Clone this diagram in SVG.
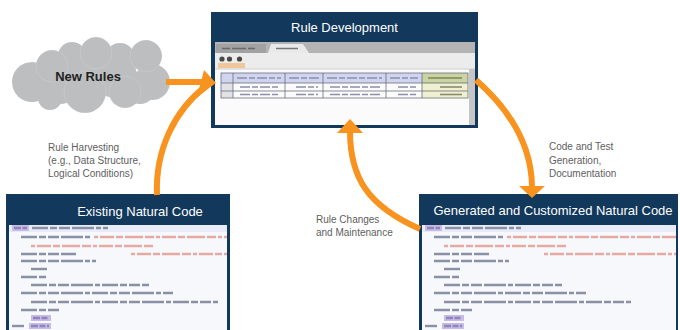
<svg xmlns="http://www.w3.org/2000/svg" xmlns:xlink="http://www.w3.org/1999/xlink" width="680" height="330" viewBox="0 0 680 330">
<style>
  .navy{fill:#12385c}
  .title{font-family:"Liberation Sans",Arial,sans-serif;font-size:13px;fill:#ffffff;text-anchor:middle}
  .lbl{font-family:"Liberation Sans",Arial,sans-serif;font-size:10px;fill:#5e5e5e}
  .arrow{fill:none;stroke:#f7931e;stroke-width:6}
  .head{fill:#f7931e}
  .cg{stroke:#8a90a6;stroke-width:2.4;stroke-dasharray:16 2 7 2 11 2 22 2 5 2}
  .cr{stroke:#e6aaa2;stroke-width:2.4;stroke-dasharray:4 2 14 2 7 2 18 2 9 2}
  .cp{stroke:#8f84bd;stroke-width:2.4;stroke-dasharray:7 1.5 6 1.5}
  .hl{fill:#c6bce4}
  .cloud circle{fill:#bdbec0}
  .seam circle{fill:none;stroke:#ffffff;stroke-opacity:.18;stroke-width:.7}
  .grid{fill:none;stroke:#5a5f70;stroke-width:.7}
  .cell{stroke:#8a90aa;stroke-width:1.6;stroke-dasharray:10 2 6 2}
</style>
<defs>
  <filter id="soft" x="-5%" y="-5%" width="110%" height="110%"><feGaussianBlur stdDeviation="0.6"/></filter>
  <clipPath id="clipL"><rect x="9" y="225" width="218" height="105"/></clipPath>
  <clipPath id="clipR"><rect x="422" y="225" width="254" height="105"/></clipPath>
  <g id="code">
    <rect x="0" y="0" width="300" height="7" fill="#e8ecf8"/>
    <rect class="hl" x="3" y="0" width="17" height="6"/>
    <line class="cp" x1="5" y1="3" x2="18" y2="3"/>
    <line class="cg" x1="23" y1="3" x2="99" y2="3"/>
    <line class="cg" x1="12" y1="12" x2="82" y2="12"/>
    <line class="cr" x1="85" y1="12" x2="300" y2="12"/>
    <line class="cr" x1="22" y1="21" x2="144" y2="21"/>
    <line class="cg" x1="12" y1="29" x2="67" y2="29"/>
    <line class="cr" x1="122" y1="29" x2="300" y2="29"/>
    <line class="cg" x1="12" y1="36" x2="87" y2="36"/>
    <line class="cg" x1="22" y1="44" x2="40" y2="44"/>
    <line class="cg" x1="12" y1="52" x2="37" y2="52"/>
    <line class="cg" x1="22" y1="60" x2="140" y2="60"/>
    <line class="cg" x1="12" y1="68" x2="164" y2="68"/>
    <line class="cg" x1="22" y1="77" x2="209" y2="77"/>
    <line class="cg" x1="12" y1="85" x2="50" y2="85"/>
    <rect class="hl" x="22" y="90" width="20" height="6"/>
    <line class="cp" x1="24" y1="93" x2="40" y2="93"/>
    <line class="cg" x1="3" y1="101" x2="15" y2="101"/>
    <rect class="hl" x="20" y="98" width="22" height="6"/>
    <line class="cp" x1="22" y1="101" x2="40" y2="101"/>
  </g>
</defs>
<rect width="680" height="330" fill="#ffffff"/>

<g id="new-rules">
  <g class="cloud">
    <circle cx="32" cy="82" r="20"/><circle cx="52" cy="66" r="16"/><circle cx="72" cy="56" r="14"/>
    <circle cx="96" cy="53" r="16"/><circle cx="120" cy="58" r="15"/><circle cx="146" cy="56" r="16"/>
    <circle cx="152" cy="82" r="18"/><circle cx="50" cy="98" r="12"/><circle cx="85" cy="92" r="21"/>
    <circle cx="125" cy="92" r="16"/><circle cx="90" cy="75" r="25"/><circle cx="140" cy="88" r="16"/>
    <circle cx="115" cy="76" r="22"/><circle cx="60" cy="84" r="20"/>
  </g>
  <g class="seam">
    <circle cx="52" cy="66" r="16"/><circle cx="96" cy="53" r="16"/><circle cx="146" cy="56" r="16"/>
    <circle cx="85" cy="92" r="21"/><circle cx="125" cy="92" r="16"/>
  </g>
  <text x="88" y="81" text-anchor="middle" font-family="'Liberation Sans',Arial,sans-serif" font-size="13" font-weight="bold" fill="#222222">New Rules</text>
</g>

<g id="rule-development">
  <rect class="navy" x="211" y="12" width="267" height="116"/>
  <text class="title" x="344.5" y="32">Rule Development</text>
  <g filter="url(#soft)">
    <rect x="215" y="42" width="260" height="83" fill="#fbfbfb"/>
    <rect x="215" y="42" width="260" height="11" fill="#b4b4b4"/>
    <rect x="216" y="44" width="50" height="9" fill="#a2a2a2"/>
    <line x1="222" y1="48.5" x2="255" y2="48.5" stroke="#6a6a6a" stroke-width="1.5" stroke-dasharray="8 2 14 2"/>
    <polygon points="268,53 271,44 303,44 309,53" fill="#e9e9e9"/>
    <line x1="276" y1="48.5" x2="298" y2="48.5" stroke="#777" stroke-width="1.5"/>
    <rect x="215" y="53" width="260" height="16" fill="#ececec"/>
    <circle cx="222" cy="59" r="2.6" fill="#4a4a4a"/>
    <circle cx="229.5" cy="59" r="2.6" fill="#4a4a4a"/>
    <circle cx="239.5" cy="59" r="2.6" fill="#4a4a4a"/>
    <rect x="218" y="63" width="27" height="5" fill="#f0c79a"/>
    <line x1="215" y1="69" x2="475" y2="69" stroke="#cfcfcf"/>
    <rect x="469" y="69" width="6" height="56" fill="#c6c6c6"/>
    <rect x="221" y="73" width="247" height="10" fill="#d0d4ee"/>
    <rect x="422" y="73" width="46" height="10" fill="#c9d3a3"/>
    <rect x="221" y="83" width="12" height="15" fill="#e2e2e6"/>
    <rect x="422" y="83" width="46" height="15" fill="#eef0d0"/>
    <line class="cell" x1="237" y1="78" x2="281" y2="78"/>
    <line class="cell" x1="289" y1="78" x2="319" y2="78"/>
    <line class="cell" x1="327" y1="78" x2="382" y2="78"/>
    <line class="cell" x1="390" y1="78" x2="418" y2="78"/>
    <line x1="428" y1="78" x2="462" y2="78" stroke="#7d8a55" stroke-width="1.6"/>
    <line class="cell" x1="240" y1="87" x2="280" y2="87"/>
    <line class="cell" x1="296" y1="87" x2="318" y2="87"/>
    <line class="cell" x1="330" y1="87" x2="380" y2="87"/>
    <line class="cell" x1="398" y1="87" x2="418" y2="87"/>
    <line x1="440" y1="87" x2="462" y2="87" stroke="#8a8a70" stroke-width="1.6"/>
    <line class="cell" x1="240" y1="94.5" x2="278" y2="94.5"/>
    <line class="cell" x1="296" y1="94.5" x2="318" y2="94.5"/>
    <line class="cell" x1="330" y1="94.5" x2="380" y2="94.5"/>
    <line class="cell" x1="398" y1="94.5" x2="418" y2="94.5"/>
    <line x1="440" y1="94.5" x2="462" y2="94.5" stroke="#8a8a70" stroke-width="1.6"/>
    <rect class="grid" x="221" y="73" width="247" height="25"/>
    <path class="grid" d="M221,83H468M221,91H468M233,73V98M285,73V98M323,73V98M386,73V98M422,73V98"/>
  </g>
</g>

<g id="existing-code">
  <rect class="navy" x="6" y="194" width="224" height="140"/>
  <text class="title" x="140" y="216">Existing Natural Code</text>
  <rect x="9" y="225" width="218" height="105" fill="#f7f8fb"/>
  <g clip-path="url(#clipL)" filter="url(#soft)"><use xlink:href="#code" href="#code" transform="translate(9,225)"/></g>
</g>

<g id="generated-code">
  <rect class="navy" x="419" y="194" width="259" height="140"/>
  <text class="title" x="553" y="215">Generated and Customized Natural Code</text>
  <rect x="422" y="225" width="254" height="105" fill="#f7f8fb"/>
  <g clip-path="url(#clipR)" filter="url(#soft)"><use xlink:href="#code" href="#code" transform="translate(422,225)"/></g>
</g>

<g id="connectors">
  <path class="arrow" d="M166,82 L203,82"/>
  <path class="arrow" d="M157,195 C155,150 175,110 205,87"/>
  <polygon class="head" points="197,97 204,70 216,83"/>
  <path class="arrow" d="M476,80 C510,110 532,145 532,188"/>
  <polygon class="head" points="519,186 545,186 532,198"/>
  <path class="arrow" d="M420,229 C368,206 350,178 350,131"/>
  <polygon class="head" points="337,133 363,133 350,119"/>
</g>

<g id="labels">
  <text class="lbl" x="48" y="151">Rule Harvesting</text>
  <text class="lbl" x="48" y="164">(e.g., Data Structure,</text>
  <text class="lbl" x="48" y="177">Logical Conditions)</text>
  <text class="lbl" x="549" y="150">Code and Test</text>
  <text class="lbl" x="549" y="163.5">Generation,</text>
  <text class="lbl" x="549" y="177">Documentation</text>
  <text class="lbl" x="316" y="223">Rule Changes</text>
  <text class="lbl" x="316" y="236">and Maintenance</text>
</g>
</svg>
